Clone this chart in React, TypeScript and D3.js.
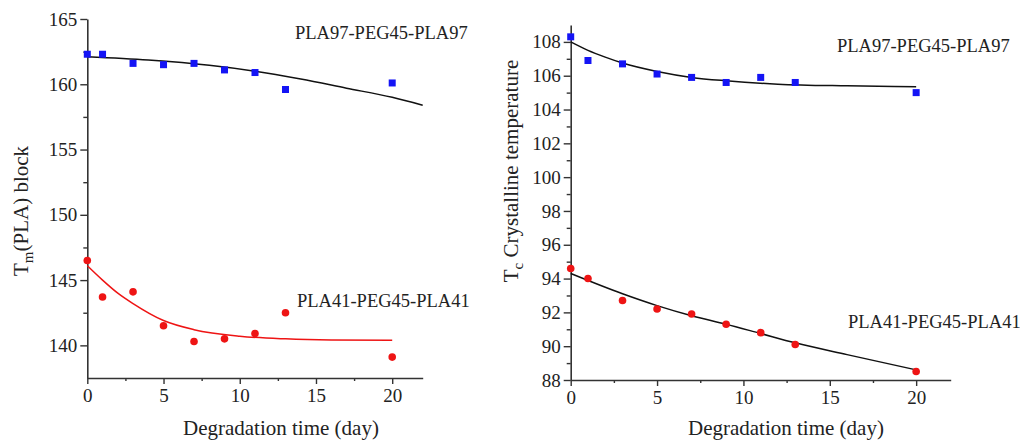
import React, { useEffect, useRef } from 'react';
import * as d3 from 'd3';

// sampling days (same for all four series)
const days = [0, 1, 3, 5, 7, 9, 11, 13, 20];

// left panel: Tm of the PLA block
const tmPla97 = [162.3, 162.3, 161.6, 161.5, 161.6, 161.1, 160.9, 159.6, 160.1];
const tmPla41 = [146.5, 143.7, 144.1, 141.5, 140.3, 140.5, 140.9, 142.5, 139.1];

// right panel: Tc crystalline temperature
const tcPla97 = [108.3, 106.9, 106.7, 106.1, 105.9, 105.6, 105.9, 105.6, 105.0];
const tcPla41 = [94.6, 94.0, 92.7, 92.2, 91.9, 91.3, 90.8, 90.1, 88.5];

// fitted curves
const fitTm97Days = [0, 4, 8, 11, 14, 17, 20, 22];
const fitTm97 = [162.1, 161.85, 161.45, 161.0, 160.4, 159.7, 159.0, 158.4];
const fitTm41Days = [0, 1, 2, 3, 5, 7, 10, 13, 16, 20];
const fitTm41 = [146.1, 145.0, 144.0, 143.2, 141.9, 141.2, 140.7, 140.5, 140.42, 140.4];
const fitTc97Days = [0, 1, 2, 3, 5, 7, 9, 12, 16, 20];
const fitTc97 = [108.0, 107.5, 107.1, 106.75, 106.25, 105.9, 105.7, 105.5, 105.4, 105.35];
const fitTc41Days = [0, 3, 5, 7, 9, 11, 13, 16, 20];
const fitTc41 = [94.3, 93.1, 92.4, 91.8, 91.3, 90.75, 90.2, 89.5, 88.6];

// axis ticks
const xMajor = [0, 5, 10, 15, 20];
const xMinor = [2.5, 7.5, 12.5, 17.5];
const tmMajor = [140, 145, 150, 155, 160, 165];
const tmMinor = [142.5, 147.5, 152.5, 157.5, 162.5];
const tcMajor = [88, 90, 92, 94, 96, 98, 100, 102, 104, 106, 108];
const tcMinor = [89, 91, 93, 95, 97, 99, 101, 103, 105, 107];

const labelA = 'PLA97-PEG45-PLA97';
const labelB = 'PLA41-PEG45-PLA41';

const FONT = '"Liberation Serif", "Times New Roman", serif';
const BLUE = '#1414f5';
const RED = '#ee1414';
const AXIS = '#333';

const App = () => {
  const svgRef = useRef<SVGSVGElement>(null);

  useEffect(() => {
    const svg = d3.select(svgRef.current);
    svg.selectAll('*').remove();

    const panel = (opts: any) => {
      const x = d3.scaleLinear().domain([0, 22]).range(opts.xRange);
      const y = d3.scaleLinear().domain(opts.yDomain).range(opts.yRange);
      const g = svg.append('g');

      const styleAxis = (a: any) => {
        a.select('.domain').attr('stroke', AXIS).attr('stroke-width', 1.6);
        a.selectAll('.tick line').attr('stroke', AXIS).attr('stroke-width', 1.4);
        a.selectAll('text')
          .attr('font-family', FONT)
          .attr('font-size', 19)
          .attr('fill', '#222');
      };

      // x axis
      const xa = g.append('g')
        .attr('transform', `translate(0,${opts.yRange[0]})`)
        .call(d3.axisBottom(x).tickValues(xMajor).tickSize(6).tickSizeOuter(0).tickPadding(5));
      styleAxis(xa);
      const xm = g.append('g')
        .attr('transform', `translate(0,${opts.yRange[0]})`)
        .call(d3.axisBottom(x).tickValues(xMinor).tickSize(3).tickFormat(() => ''));
      xm.select('.domain').remove();
      styleAxis(xm);

      // y axis
      const ya = g.append('g')
        .attr('transform', `translate(${opts.xRange[0]},0)`)
        .call(d3.axisLeft(y).tickValues(opts.yMajor).tickSize(7).tickSizeOuter(0).tickPadding(3));
      styleAxis(ya);
      const ym = g.append('g')
        .attr('transform', `translate(${opts.xRange[0]},0)`)
        .call(d3.axisLeft(y).tickValues(opts.yMinor).tickSize(4).tickFormat(() => ''));
      ym.select('.domain').remove();
      styleAxis(ym);

      // fitted curves
      const line = d3.line<[number, number]>()
        .x(d => x(d[0]))
        .y(d => y(d[1]))
        .curve(d3.curveMonotoneX);
      opts.fits.forEach((f: any) => {
        g.append('path')
          .datum(d3.zip(f.xs, f.ys) as [number, number][])
          .attr('fill', 'none')
          .attr('stroke', f.color)
          .attr('stroke-width', 1.5)
          .attr('d', line);
      });

      // squares
      g.selectAll('.sq')
        .data(d3.zip(days, opts.squares))
        .enter().append('rect')
        .attr('x', d => x(d[0]) - 3.5)
        .attr('y', d => y(d[1]) - 3.5)
        .attr('width', 7)
        .attr('height', 7)
        .attr('fill', BLUE);

      // circles
      g.selectAll('.dot')
        .data(d3.zip(days, opts.circles))
        .enter().append('circle')
        .attr('cx', d => x(d[0]))
        .attr('cy', d => y(d[1]))
        .attr('r', 3.8)
        .attr('fill', RED);

      // series labels
      opts.labels.forEach((l: any) => {
        g.append('text')
          .attr('x', l.x)
          .attr('y', l.y)
          .attr('font-family', FONT)
          .attr('font-size', 18.5)
          .attr('fill', '#222')
          .text(l.text);
      });

      // x title
      g.append('text')
        .attr('x', opts.xTitleX)
        .attr('y', 435)
        .attr('font-family', FONT)
        .attr('font-size', 21)
        .attr('fill', '#222')
        .text('Degradation time (day)');

      // y title, rotated, with subscript
      const yt = g.append('text')
        .attr('transform', `translate(${opts.yTitle.x},${opts.yTitle.y}) rotate(-90)`)
        .attr('text-anchor', 'middle')
        .attr('font-family', FONT)
        .attr('font-size', 21)
        .attr('fill', '#222');
      yt.append('tspan').text('T');
      yt.append('tspan').attr('dy', 5).attr('font-size', 15).text(opts.yTitle.sub);
      yt.append('tspan').attr('dy', -5).text(opts.yTitle.rest);
    };

    panel({
      xRange: [87.3, 422.7],
      yDomain: [137.5, 165],
      yRange: [378, 19],
      yMajor: tmMajor,
      yMinor: tmMinor,
      squares: tmPla97,
      circles: tmPla41,
      fits: [
        { xs: fitTm97Days, ys: fitTm97, color: '#111' },
        { xs: fitTm41Days, ys: fitTm41, color: RED },
      ],
      labels: [
        { x: 295, y: 39, text: labelA },
        { x: 297, y: 307, text: labelB },
      ],
      xTitleX: 183,
      yTitle: { x: 28, y: 211, sub: 'm', rest: '(PLA) block' },
    });

    panel({
      xRange: [570.7, 950.7],
      yDomain: [88, 109],
      yRange: [380, 25],
      yMajor: tcMajor,
      yMinor: tcMinor,
      squares: tcPla97,
      circles: tcPla41,
      fits: [
        { xs: fitTc97Days, ys: fitTc97, color: '#111' },
        { xs: fitTc41Days, ys: fitTc41, color: '#111' },
      ],
      labels: [
        { x: 837, y: 52, text: labelA },
        { x: 848, y: 328, text: labelB },
      ],
      xTitleX: 688,
      yTitle: { x: 518, y: 171, sub: 'c', rest: ' Crystalline temperature' },
    });
  }, []);

  return (
    <svg
      ref={svgRef}
      width={1020}
      height={440}
      style={{ position: 'absolute', left: 0, top: 0, background: '#fff' }}
    />
  );
};

export default App;
